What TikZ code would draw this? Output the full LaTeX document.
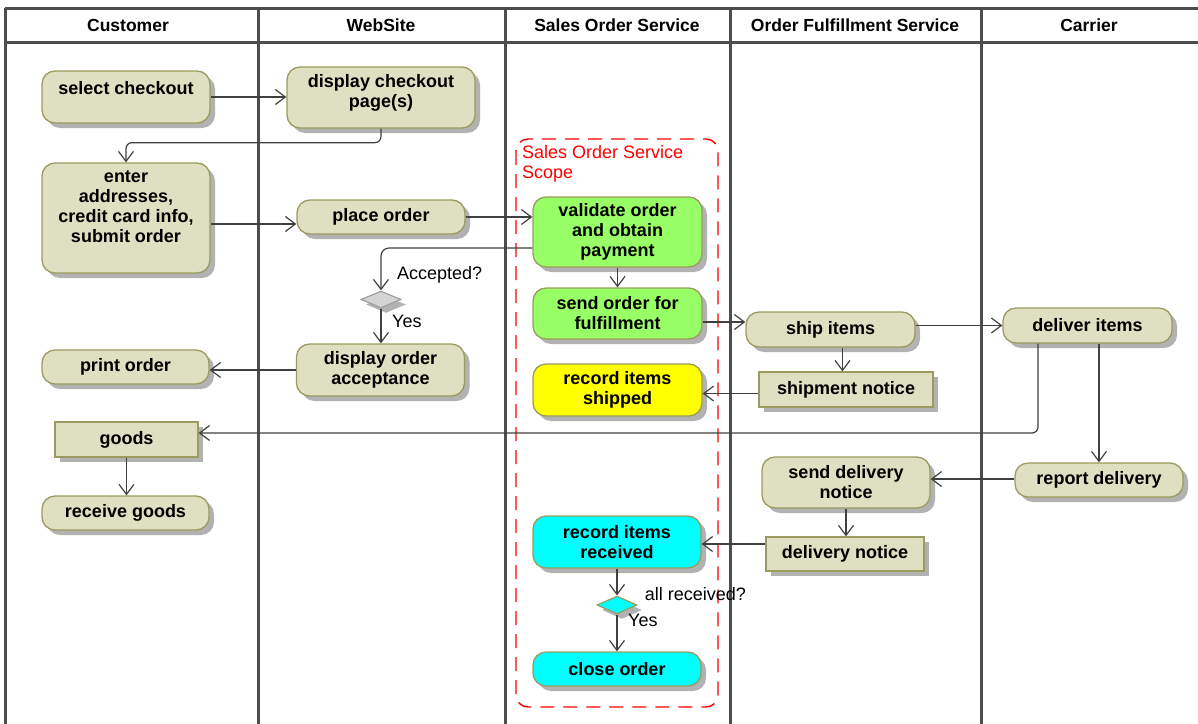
\documentclass[tikz,border=0pt]{standalone}
\usepackage{fontspec}
\setmainfont{Liberation Sans}
\usetikzlibrary{arrows.meta,shapes.geometric,shadows,calc}
\definecolor{khaki}{RGB}{223,223,194}
\definecolor{actborder}{RGB}{155,155,95}
\definecolor{shadowgray}{RGB}{178,178,178}
\definecolor{actgreen}{RGB}{153,255,102}
\definecolor{actyellow}{RGB}{255,255,0}
\definecolor{actcyan}{RGB}{0,255,255}
\definecolor{decgray}{RGB}{212,212,212}
\definecolor{decborder}{RGB}{160,160,160}
\definecolor{lanegray}{RGB}{77,77,77}
\definecolor{flowgray}{RGB}{64,64,64}
\definecolor{scopered}{RGB}{255,0,0}
\begin{document}
\begin{tikzpicture}[x=1pt,y=-1pt,
  shade/.style={drop shadow={shadow xshift=5pt,shadow yshift=-5pt,fill=shadowgray,opacity=1}},
  act/.style={draw=actborder, line width=1.3pt, fill=khaki, rounded corners=13pt,
    inner sep=0pt, align=center, shade,
    font=\bfseries\fontsize{18}{20}\selectfont},
  obj/.style={act, sharp corners},
  sz/.style 2 args={minimum width=#1pt, minimum height=#2pt},
  txt/.style={inner sep=0pt, align=center, font=\bfseries\fontsize{18}{20}\selectfont},
  lbl/.style={inner sep=0pt, font=\fontsize{18}{20}\selectfont, text=black},
  head/.style={inner sep=0pt, font=\bfseries\fontsize{17.5}{20}\selectfont},
  dec/.style={diamond, draw=decborder, fill=decgray, line width=1.2pt, inner sep=0pt,
    minimum width=40pt, minimum height=17pt, shade},
  lane/.style={draw=lanegray, line width=3pt},
  flow/.style={draw=flowgray, line width=1.2pt,
    -{Straight Barb[length=10pt,width=15pt,line width=1.2pt]}},
  scopebox/.style={draw=scopered, line width=1.4pt, dash pattern=on 14pt off 9pt, rounded corners=12pt}
]
\useasboundingbox (0,0) rectangle (1198,723);

% swimlane frame
\draw[lane] (5,8) -- (1200,8);
\draw[lane] (5,42) -- (1200,42);
\foreach \lx in {5,258,505,730,981}
  \draw[lane] (\lx,8) -- (\lx,726);

% lane headings
\node[head] (hcust) at (128,25) {Customer};
\node[head] (hweb)  at (381,25) {WebSite};
\node[head] (hsos)  at (617,25) {Sales Order Service};
\node[head] (hofs)  at (855,25) {Order Fulfillment Service};
\node[head] (hcar)  at (1089,25) {Carrier};

% scope of the sales order service
\draw[scopebox] (516,139) rectangle (718,707);
\node[lbl, text=scopered, align=left, anchor=west] (scopelbl) at (522,164)
  {\fontseries{m}\selectfont Sales Order Service\\Scope};

% Customer lane
\node[act, sz={168}{52}] (sel) at (126,97) {};
\node[txt] (seltxt) at ($(sel.center)+(0,-9)$) {select checkout};
\node[act, sz={168}{110}] (enter) at (126,218) {};
\node[txt] (entertxt) at ($(enter.center)+(0,-11)$) {enter\\addresses,\\credit card info,\\submit order};
\node[act, sz={167}{34}] (print) at (125.5,367) {print order};
\node[obj, sz={143}{35}] (goods) at (126.5,439.5) {goods};
\node[act, sz={167}{34}] (recv) at (125.5,513) {receive goods};

% WebSite lane
\node[act, sz={188}{61}] (disp) at (381,97.5) {};
\node[txt] (disptxt) at ($(disp.center)+(0,-4.5)$) {display checkout\\page(s)};
\node[act, sz={168}{34}] (place) at (381,217) {place order};
\node[dec] (dec1) at (381,299.5) {};
\node[act, sz={168}{52}] (dacc) at (380.5,370) {display order\\acceptance};
\node[lbl, anchor=west] (acclbl) at ($(dec1.north)+(16,-16)$) {Accepted?};
\node[lbl, anchor=west] (yes1) at ($(dec1.south)+(11,13)$) {Yes};

% Sales Order Service lane
\node[act, fill=actgreen, sz={169}{70}] (valid) at (617.5,232) {validate order\\and obtain\\payment};
\node[act, fill=actgreen, sz={169}{51}] (send) at (617.5,313.5) {send order for\\fulfillment};
\node[act, fill=actyellow, sz={169}{52}] (recsh) at (617.5,390) {record items\\shipped};
\node[act, fill=actcyan, sz={168}{52}] (recrv) at (617,542) {record items\\received};
\node[dec, fill=actcyan, draw=actborder, minimum height=18pt] (dec2) at (617,605) {};
\node[act, fill=actcyan, sz={168}{34}] (close) at (617,669) {close order};
\node[lbl, anchor=west] (allrcv) at ($(dec2.east)+(7,-11)$) {all received?};
\node[lbl, anchor=west] (yes2) at ($(dec2.south)+(11,6)$) {Yes};

% Order Fulfillment Service lane
\node[act, sz={169}{35}] (ship) at (830.5,329.5) {ship items};
\node[obj, sz={174}{35}] (shipn) at (846,389.5) {shipment notice};
\node[act, sz={168}{51}] (sdn) at (846,482.5) {send delivery\\notice};
\node[obj, sz={158}{34}] (dn) at (845,554) {delivery notice};

% Carrier lane
\node[act, sz={169}{35}] (deliv) at (1087.5,325.5) {deliver items};
\node[act, sz={168}{34}] (report) at (1099,480) {report delivery};

% control and object flows
\draw[flow] (sel.east) -- (sel.east -| disp.west);
\draw[flow, rounded corners=6pt] (disp.south) -- ++(0,14) -| (enter.north);
\draw[flow] ($(enter.east)+(0,6)$) coordinate (e1) -- (e1 -| place.west);
\draw[flow] (place.east) coordinate (p1) -- (p1 -| valid.west);
\draw[flow, rounded corners=8pt] ($(valid.west)+(0,16)$) -| (dec1.north);
\draw[flow] (dec1.south) -- (dec1.south |- dacc.north);
\draw[flow] (dacc.west) -- (dacc.west -| print.east);
\draw[flow] (valid.south) -- (send.north);
\draw[flow] ($(send.east)+(0,8.5)$) coordinate (s1) -- (s1 -| ship.west);
\draw[flow] (ship.east |- deliv.west) -- (deliv.west);
\draw[flow] ($(ship.south)+(12,0)$) coordinate (s2) -- (s2 |- shipn.north);
\draw[flow] ($(shipn.west)+(0,4)$) coordinate (s3) -- (s3 -| recsh.east);
\draw[flow, rounded corners=6pt] ($(deliv.south)+(-49.5,0)$) |- ($(goods.east)+(0,-6.5)$);
\draw[flow] (deliv.south -| report.north) -- (report.north);
\draw[flow] ($(report.west)+(0,-1)$) coordinate (r1) -- (r1 -| sdn.east);
\draw[flow] (sdn.south) -- (sdn.south |- dn.north);
\draw[flow] ($(dn.west)+(0,-10)$) coordinate (d1) -- (d1 -| recrv.east);
\draw[flow] (recrv.south) -- (dec2.north);
\draw[flow] (dec2.south) -- (close.north);
\draw[flow] (goods.south) -- (goods.south |- recv.north);
\end{tikzpicture}
\end{document}
